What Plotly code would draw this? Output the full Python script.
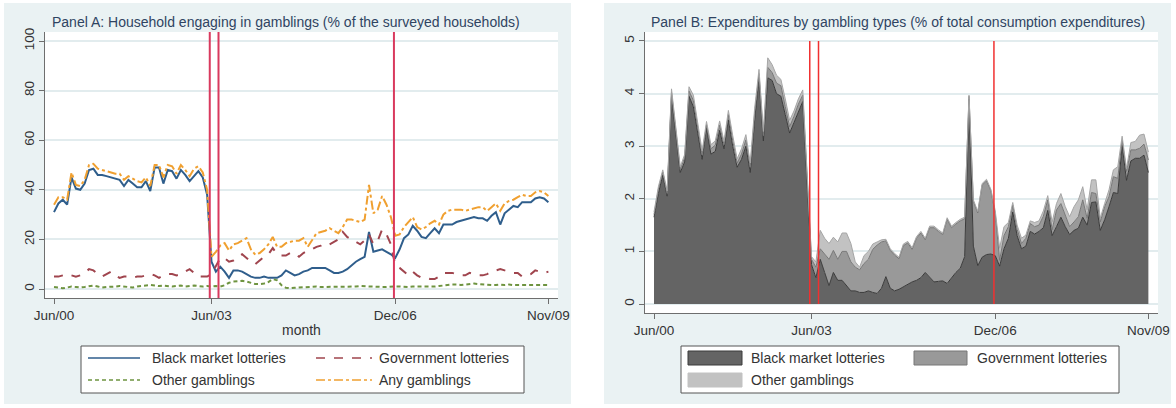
import plotly.graph_objects as go

W, H = 1176, 408

# Monthly index: 0 = Jun 2000 ... 113 = Nov 2009
months = list(range(114))
tick_months = [0, 36, 78, 113]
tick_labels = ["Jun/00", "Jun/03", "Dec/06", "Nov/09"]
event_months = [35.6, 37.6, 77.7]

# Panel A: share of surveyed households engaging in each gambling type (%)
black_market = [
    31, 34.5, 36, 34, 45, 40.5, 40, 42.5, 48, 48.5,
    46, 46, 45.5, 45, 44.5, 44, 41.5, 44, 42.5, 41,
    41, 43.5, 39.5, 49, 49, 42.5, 48, 47.5, 44.5, 48,
    46, 43.5, 45.5, 47.5, 45, 38, 11, 7, 9, 7,
    4.5, 7.5, 7.5, 7, 6, 5, 4.5, 4.5, 5, 4.5,
    4.5, 4.5, 5.5, 7.5, 6.5, 5.5, 6, 7, 7.5, 8.5,
    8.5, 8.5, 8.5, 7.5, 6.5, 6.5, 7, 8, 9.5, 11,
    12, 13, 23, 15, 15.5, 16, 15, 14, 12.5, 16,
    20.5, 22, 25.5, 23.5, 21, 20.5, 22.5, 24.5, 22.5, 26,
    26, 26, 27, 27.5, 28, 28.5, 29, 28.5, 28.5, 27.5,
    29.5, 31, 26, 30.5, 32, 33.5, 33, 35, 35, 35,
    36.5, 37, 36.5, 35,
]
government = [
    5, 5, 5.5, 6, 5.5, 5, 5.5, 6.5, 8, 7.5,
    6, 5, 6, 7, 5.5, 4.5, 5, 5, 4.5, 5,
    5, 5.5, 6, 5.5, 4.5, 5.5, 6, 6, 5.5, 6,
    7, 8, 6.5, 5, 5, 5, 6, 9, 12.5, 12.5,
    11, 11.5, 13, 14, 12.5, 11, 10, 11.5, 13, 14,
    16.5, 14, 13.5, 13.5, 14.5, 14.5, 13, 14.5, 15.5, 16,
    17, 17.5, 18.5, 18, 19, 20, 23, 21, 20, 19,
    18, 19.5, 22, 18, 19.5, 24, 22, 18, 9.5, 8.5,
    7, 5.5, 7, 5.5, 4.5, 4.5, 4, 4, 5, 6.5,
    6.5, 6.5, 6, 5.5, 5.5, 6.5, 6, 5.5, 5.5, 6,
    7, 7.5, 8, 7.5, 7, 6.5, 6.5, 5, 5.5, 6,
    7.5, 7, 6.5, 7,
]
other = [
    0.8, 0.5, 0.3, 0.6, 1, 0.8, 0.6, 0.8, 1.2, 1.4,
    1, 0.6, 0.8, 0.8, 1, 1.2, 1, 0.8, 0.6, 1,
    1.2, 1.4, 1.6, 1.4, 1.2, 1.4, 1.2, 1, 1.2, 1.4,
    1, 1.2, 1.4, 1.2, 1, 1.2, 1, 1.2, 1, 1.5,
    2.5, 3, 3.3, 3.3, 3, 2.5, 2, 2, 2.2, 2.8,
    4, 3.5, 1.5, 0.5, 0.3, 0.5, 0.6, 0.8, 1, 1,
    1, 0.8, 0.8, 1, 1, 0.8, 0.8, 0.8, 1, 1,
    1.2, 1, 1, 1, 0.8, 0.8, 0.8, 1, 1, 1,
    0.8, 0.8, 1, 1, 0.8, 0.8, 1, 1, 1.2, 1.4,
    1.8, 1.8, 1.8, 1.6, 1.8, 2, 2.2, 2, 1.8, 1.8,
    1.6, 1.6, 1.8, 1.6, 1.8, 1.6, 1.6, 1.8, 1.8, 1.6,
    1.8, 1.8, 1.6, 1.6,
]
any_gambling = [
    34, 37, 37, 36, 47, 42, 41.5, 44, 50, 50.5,
    48.5, 48, 47.5, 47, 46.5, 46.5, 44, 45.5, 44.5, 43.5,
    43, 45, 41.5, 50, 50, 45, 50, 49.5, 46.5, 50,
    48, 45.5, 48.5, 49.5, 47, 40, 13, 15, 17.5, 18.5,
    15.5, 18, 18.5, 19.5, 20.5, 16, 13.8, 14.5, 16, 18,
    21, 17, 17, 18.5, 19, 19.5, 19.5, 20.5, 17, 20,
    22.5, 23, 23.5, 24.5, 23.5, 22.5, 25, 28, 28, 27.5,
    27, 28, 42, 30.5, 32, 37.5, 34, 29, 21.5, 22,
    25, 27, 29, 25, 24, 25, 26.5, 27.5, 26, 30,
    31.5, 32, 32, 32, 31.5, 32, 32.5, 33, 33, 31.5,
    33, 34.5, 31.5, 34.5, 35.5, 36, 37, 38, 37.5, 37.5,
    39, 39.5, 39, 37.5,
]

# Panel B: expenditure shares by gambling type (% of total consumption)
exp_black_market = [
    1.65, 2.1, 2.45, 2.05, 3.95, 3.2, 2.5, 2.7, 3.95, 3.75,
    3.25, 2.75, 3.35, 2.85, 2.9, 3.3, 2.95, 3.5, 3.0, 2.6,
    2.75, 3.0, 2.5, 3.5, 4.3, 3.1, 4.3, 4.25, 4.0, 3.95,
    3.6, 3.25, 3.45, 3.65, 3.85, 2.3, 0.75, 0.5, 0.85, 0.6,
    0.35, 0.6, 0.45, 0.45, 0.35, 0.25, 0.25, 0.22, 0.22, 0.25,
    0.22, 0.2, 0.3, 0.52, 0.3, 0.25, 0.28, 0.33, 0.38, 0.42,
    0.45, 0.5, 0.6, 0.5, 0.42, 0.43, 0.44, 0.39, 0.5, 0.6,
    0.68, 0.9, 3.9, 1.1, 0.73, 0.89, 0.94, 0.95, 0.92, 0.72,
    1.05, 1.25, 1.75, 1.3, 1.05, 1.1, 1.38, 1.33, 1.38, 1.45,
    1.78, 1.3, 1.47, 1.65, 1.47, 1.32, 1.4, 1.44, 1.65, 1.5,
    1.93, 1.94, 1.4, 1.6, 1.85, 2.12, 2.1, 3.02, 2.35, 2.72,
    2.77, 2.77, 2.83, 2.5,
]
exp_government = [
    0.05, 0.08, 0.06, 0.05, 0.08, 0.08, 0.06, 0.08, 0.1, 0.12,
    0.1, 0.08, 0.06, 0.1, 0.12, 0.1, 0.08, 0.1, 0.1, 0.08,
    0.1, 0.12, 0.1, 0.12, 0.08, 0.1, 0.2, 0.15, 0.2, 0.2,
    0.15, 0.12, 0.12, 0.15, 0.12, 0.1, 0.1, 0.2, 0.2, 0.35,
    0.5, 0.42, 0.4, 0.55, 0.65, 0.55, 0.45, 0.43, 0.55, 0.6,
    0.82, 0.92, 0.88, 0.68, 0.72, 0.68, 0.58, 0.78, 0.78, 0.62,
    0.8, 0.85, 0.62, 0.95, 1.03, 0.95, 0.88, 1.22, 0.95, 0.92,
    0.9, 0.72, 0.05, 0.85, 1.0, 1.37, 1.4, 1.2, 0.8, 0.11,
    0.25, 0.22, 0.13, 0.12, 0.1, 0.15, 0.15, 0.14, 0.12, 0.22,
    0.2, 0.11, 0.32, 0.26, 0.23, 0.15, 0.16, 0.22, 0.33, 0.13,
    0.19, 0.16, 0.16, 0.25, 0.19, 0.3, 0.29, 0.09, 0.17, 0.21,
    0.16, 0.19, 0.21, 0.24,
]
exp_other = [
    0.05, 0.05, 0.04, 0.05, 0.06, 0.05, 0.05, 0.06, 0.08, 0.1,
    0.08, 0.08, 0.06, 0.08, 0.08, 0.08, 0.06, 0.08, 0.1, 0.08,
    0.1, 0.1, 0.08, 0.1, 0.08, 0.08, 0.18, 0.15, 0.15, 0.12,
    0.15, 0.12, 0.1, 0.1, 0.1, 0.08, 0.05, 0.1, 0.35, 0.3,
    0.3, 0.25, 0.33, 0.35, 0.35, 0.35, 0.1, 0.05, 0.15, 0.15,
    0.1, 0.06, 0.04, 0.03, 0.03, 0.03, 0.03, 0.03, 0.03, 0.03,
    0.03, 0.03, 0.03, 0.03, 0.03, 0.03, 0.03, 0.03, 0.03, 0.03,
    0.03, 0.03, 0.02, 0.03, 0.03, 0.03, 0.03, 0.03, 0.05, 0.23,
    0.17, 0.08, 0.05, 0.08, 0.1, 0.06, 0.05, 0.08, 0.08, 0.1,
    0.08, 0.15, 0.12, 0.19, 0.15, 0.19, 0.29, 0.32, 0.25, 0.16,
    0.24, 0.26, 0.07, 0.06, 0.13, 0.13, 0.22, 0.08, 0.05, 0.14,
    0.16, 0.25, 0.19, 0.15,
]

for series in (black_market, government, other, any_gambling,
               exp_black_market, exp_government, exp_other):
    assert len(series) == len(months)

FONT = "Liberation Sans, Arial, sans-serif"
PANEL_BG = "#EAF2F3"
GRID = "#E2ECEE"
AXIS = "#6E6E6E"
TEXT = "#333333"
TITLE = "#2F4462"
TICK_SIZE = 13.5
TEXT_SIZE = 14

C_BLACK = "#2F5E8C"
C_GOV = "#A0454E"
C_OTHER = "#6E9440"
C_ANY = "#F0A030"

F_BLACK, L_BLACK = "#646464", "#3A3A3A"
F_GOV, L_GOV = "#999999", "#777777"
F_OTHER, L_OTHER = "#C2C2C2", "#A6A6A6"


def px(x):
    return x / W


def py(y):
    return 1 - y / H


fig = go.Figure()

# Panel A lines
fig.add_trace(go.Scatter(x=months, y=black_market, mode="lines", name="Black market lotteries",
                         line=dict(color=C_BLACK, width=2), xaxis="x", yaxis="y"))
fig.add_trace(go.Scatter(x=months, y=government, mode="lines", name="Government lotteries",
                         line=dict(color=C_GOV, width=2, dash="dash"), xaxis="x", yaxis="y"))
fig.add_trace(go.Scatter(x=months, y=other, mode="lines", name="Other gamblings",
                         line=dict(color=C_OTHER, width=2, dash="4px,3px"), xaxis="x", yaxis="y"))
fig.add_trace(go.Scatter(x=months, y=any_gambling, mode="lines", name="Any gamblings",
                         line=dict(color=C_ANY, width=2, dash="dashdot"), xaxis="x", yaxis="y"))

# Panel B stacked areas
for vals, name, fc, lc in [
    (exp_black_market, "Black market lotteries", F_BLACK, L_BLACK),
    (exp_government, "Government lotteries", F_GOV, L_GOV),
    (exp_other, "Other gamblings", F_OTHER, L_OTHER),
]:
    fig.add_trace(go.Scatter(x=months, y=vals, mode="lines", name=name, stackgroup="exp",
                             fillcolor=fc, line=dict(color=lc, width=1),
                             xaxis="x2", yaxis="y2"))

for tr in fig.data:
    tr.showlegend = False

common_x = dict(
    range=[-2.06, 115.2], tickvals=tick_months, ticktext=tick_labels,
    ticks="outside", ticklen=5, tickcolor=AXIS, tickwidth=1,
    showline=True, linecolor=AXIS, linewidth=1,
    showgrid=False, zeroline=False, automargin=False,
    tickfont=dict(family=FONT, size=TICK_SIZE, color=TEXT),
)
common_y = dict(
    ticks="outside", ticklen=5, tickcolor=AXIS, tickwidth=1,
    showline=True, linecolor=AXIS, linewidth=1,
    showgrid=True, gridcolor=GRID, gridwidth=1.5, zeroline=False,
    automargin=False, tickangle=-90,
    tickfont=dict(family=FONT, size=TICK_SIZE, color=TEXT),
)

fig.update_layout(
    width=W, height=H,
    margin=dict(l=0, r=0, t=0, b=0, pad=0, autoexpand=False),
    paper_bgcolor="white", plot_bgcolor="white",
    showlegend=False,
    font=dict(family=FONT, size=TEXT_SIZE, color=TEXT),
    xaxis=dict(domain=[px(45), px(558)], anchor="y", **common_x),
    yaxis=dict(domain=[py(298), py(32)], anchor="x", range=[-3.63, 103.63],
               tickvals=[0, 20, 40, 60, 80, 100], **common_y),
    xaxis2=dict(domain=[px(645), px(1158)], anchor="y2", **common_x),
    yaxis2=dict(domain=[py(313), py(32)], anchor="x2", range=[-0.171, 5.171],
                tickvals=[0, 1, 2, 3, 4, 5], **common_y),
)

shapes = []
# Graph regions and plot regions
for x0, x1 in [(4, 571), (604, 1171)]:
    shapes.append(dict(type="rect", xref="paper", yref="paper", layer="below",
                       x0=px(x0), x1=px(x1), y0=py(404), y1=py(3),
                       fillcolor=PANEL_BG, line=dict(width=0)))
for x0, x1, yb in [(45, 558, 298), (645, 1158, 313)]:
    shapes.append(dict(type="rect", xref="paper", yref="paper", layer="below",
                       x0=px(x0), x1=px(x1), y0=py(yb), y1=py(32),
                       fillcolor="white", line=dict(width=0)))

# Event markers
for m in event_months:
    shapes.append(dict(type="line", xref="x", yref="y domain", x0=m, x1=m, y0=0, y1=1,
                       line=dict(color="#D93A5E", width=2), layer="above"))
    shapes.append(dict(type="line", xref="x2", yref="y2", x0=m, x1=m, y0=0, y1=5,
                       line=dict(color="#F03030", width=1.5), layer="above"))

# Legend boxes
for x0, x1 in [(81, 524), (681, 1119)]:
    shapes.append(dict(type="rect", xref="paper", yref="paper", layer="below",
                       x0=px(x0), x1=px(x1), y0=py(393), y1=py(346),
                       fillcolor="white", line=dict(color="#555555", width=1)))

annotations = []
row_y = [358, 380]

# Panel A legend: line samples
legend_a = [
    ("Black market lotteries", C_BLACK, "solid", 88, 140, 150, 0),
    ("Government lotteries", C_GOV, "dash", 316, 372, 377, 0),
    ("Other gamblings", C_OTHER, "4px,3px", 88, 140, 150, 1),
    ("Any gamblings", C_ANY, "dashdot", 316, 372, 377, 1),
]
for label, color, dash, lx0, lx1, tx, row in legend_a:
    shapes.append(dict(type="line", xref="paper", yref="paper",
                       x0=px(lx0), x1=px(lx1), y0=py(row_y[row]), y1=py(row_y[row]),
                       line=dict(color=color, width=1.5, dash=dash)))
    annotations.append(dict(text=label, xref="paper", yref="paper", x=px(tx), y=py(row_y[row]),
                            xanchor="left", yanchor="middle", showarrow=False,
                            font=dict(family=FONT, size=TEXT_SIZE, color=TEXT)))

# Panel B legend: filled swatches
legend_b = [
    ("Black market lotteries", F_BLACK, L_BLACK, 688, 742, 749, 0),
    ("Government lotteries", F_GOV, L_GOV, 914, 967, 975, 0),
    ("Other gamblings", F_OTHER, F_OTHER, 688, 742, 749, 1),
]
for label, fc, lc, sx0, sx1, tx, row in legend_b:
    shapes.append(dict(type="rect", xref="paper", yref="paper",
                       x0=px(sx0), x1=px(sx1), y0=py(row_y[row] + 7), y1=py(row_y[row] - 7),
                       fillcolor=fc, line=dict(color=lc, width=1)))
    annotations.append(dict(text=label, xref="paper", yref="paper", x=px(tx), y=py(row_y[row]),
                            xanchor="left", yanchor="middle", showarrow=False,
                            font=dict(family=FONT, size=TEXT_SIZE, color=TEXT)))

# Panel titles and axis title
annotations.append(dict(text="Panel A: Household engaging in gamblings (% of the surveyed households)",
                        xref="paper", yref="paper", x=px(286), y=py(22),
                        xanchor="center", yanchor="middle", showarrow=False,
                        font=dict(family=FONT, size=TEXT_SIZE, color=TITLE)))
annotations.append(dict(text="Panel B: Expenditures by gambling types (% of total consumption expenditures)",
                        xref="paper", yref="paper", x=px(898), y=py(22),
                        xanchor="center", yanchor="middle", showarrow=False,
                        font=dict(family=FONT, size=TEXT_SIZE, color=TITLE)))
annotations.append(dict(text="month", xref="paper", yref="paper", x=px(301), y=py(330),
                        xanchor="center", yanchor="middle", showarrow=False,
                        font=dict(family=FONT, size=TEXT_SIZE, color=TEXT)))

fig.update_layout(shapes=shapes, annotations=annotations)

fig.write_html("out.html")
